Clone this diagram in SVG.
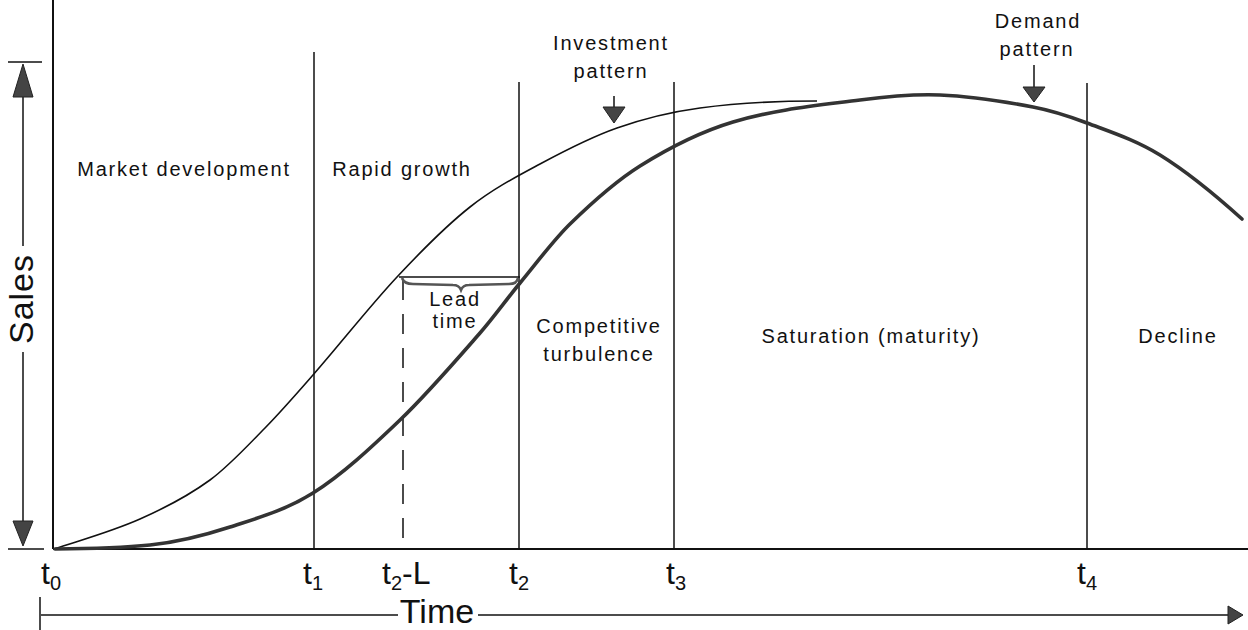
<svg xmlns="http://www.w3.org/2000/svg" width="1248" height="630" viewBox="0 0 1248 630">
<style>
.ln{stroke:#111;stroke-width:1.5;fill:none}
.ax{stroke:#111;stroke-width:2;fill:none}
.thin{stroke:#111;stroke-width:1.6;fill:none}
.thick{stroke:#333;stroke-width:3.6;fill:none;stroke-linecap:round}
.hd{fill:#444;stroke:#222;stroke-width:1}
.lbl{font-family:"Liberation Sans",Arial,sans-serif;font-size:20px;letter-spacing:1.8px;fill:#111;text-anchor:middle}
.big{font-family:"Liberation Sans",Arial,sans-serif;font-size:34px;fill:#111}
.tk{font-family:"Liberation Sans",Arial,sans-serif;font-size:32px;fill:#111}
.sub{font-size:20px}
</style>
<rect width="1248" height="630" fill="#fff"/>
<g id="axes">
<line class="ax" x1="53" y1="0" x2="53" y2="549"/>
<line class="ax" x1="53" y1="549" x2="1248" y2="549"/>
</g>
<g id="sales-axis">
<line class="ln" x1="8" y1="62" x2="42" y2="62"/>
<line class="ln" x1="8" y1="549" x2="44" y2="549"/>
<line class="ln" x1="23" y1="90" x2="23" y2="246"/>
<line class="ln" x1="23" y1="352" x2="23" y2="525"/>
<polygon class="hd" points="23,64 13,97 33,97"/>
<polygon class="hd" points="23,546 13,521 33,521"/>
<text class="big" transform="translate(33,299) rotate(-90)" text-anchor="middle" font-size="36" letter-spacing="1">Sales</text>
</g>
<g id="time-axis">
<line class="ln" x1="40" y1="597" x2="40" y2="630"/>
<line class="ln" x1="41" y1="615" x2="398" y2="615"/>
<line class="ln" x1="478" y1="615" x2="1230" y2="615"/>
<polygon class="hd" points="1228,606 1243,615 1228,624"/>
<text class="big" x="437" y="623" font-size="31" text-anchor="middle">Time</text>
</g>
<g id="phase-lines">
<line class="ln" x1="314" y1="52" x2="314" y2="549"/>
<line class="ln" x1="519" y1="82" x2="519" y2="549"/>
<line class="ln" x1="674" y1="82" x2="674" y2="549"/>
<line class="ln" x1="1087" y1="83" x2="1087" y2="549"/>
<line class="ln" x1="403" y1="280" x2="403" y2="549" stroke-dasharray="20 14"/>
</g>
<g id="connectors">
<path id="investment-curve" class="thin" d="M54,549 C82.7,539.5 111.3,531.7 140,519 C163.3,508.7 186.7,497 210,480 C228.3,466.7 246.7,446.6 265,428 C281,411.7 297,393.3 313,375 C341,343 369,307 397,277 C421.3,251 445.7,226.2 470,207 C493.3,188.6 516.7,176.5 540,164 C565.7,150.2 591.3,137 617,128 C644.7,118.3 672.3,111.7 700,108 C739,102.7 778,101 817,101"/>
<path id="demand-curve" class="thick" d="M55,549 C86.7,548.7 118.3,548.2 150,545 C176.7,542.3 203.3,535.7 230,527 C257.7,518 285.3,510.4 313,493 C342,474.8 371,447.8 400,420 C426.7,394.4 453.3,363.5 480,333 C493.3,317.8 506.7,299.1 520,283 C536.7,262.8 553.3,240.3 570,224 C593.3,201.3 616.7,180.6 640,166 C671,146.6 702,131.3 733,122 C775.3,109.3 817.7,105.5 860,100 C886.7,96.5 913.3,93.9 940,95 C971,96.2 1002,101.1 1033,107 C1051,110.4 1069,116.2 1087,123 C1111.3,132.2 1135.7,140 1160,155 C1187.3,171.9 1214.7,194.4 1242,219"/>
</g>
<g id="lead-time">
<line class="ln" x1="399" y1="277" x2="520" y2="277"/>
<path d="M402,278 Q404,284 413,284 L453,285 Q459,285 461,290 Q463,285 469,285 L509,284 Q517,284 518,278" fill="none" stroke="#555" stroke-width="2.6"/>
<text class="lbl" x="455" y="306">Lead</text>
<text class="lbl" x="455" y="328">time</text>
</g>
<g id="investment-label">
<text class="lbl" x="611" y="50">Investment</text>
<text class="lbl" x="611" y="78">pattern</text>
<line class="ln" x1="614" y1="96" x2="614" y2="108"/>
<polygon class="hd" points="603,107 625,107 614,123"/>
</g>
<g id="demand-label">
<text class="lbl" x="1038" y="28">Demand</text>
<text class="lbl" x="1037" y="56">pattern</text>
<line class="ln" x1="1034" y1="65" x2="1034" y2="88"/>
<polygon class="hd" points="1023,87 1045,87 1034,102"/>
</g>
<g id="phases">
<text class="lbl" x="184" y="176">Market development</text>
<text class="lbl" x="402" y="176">Rapid growth</text>
<text class="lbl" x="599" y="333">Competitive</text>
<text class="lbl" x="599" y="361">turbulence</text>
<text class="lbl" x="871" y="343">Saturation (maturity)</text>
<text class="lbl" x="1178" y="343">Decline</text>
</g>
<g id="time-labels">
<text class="tk" x="41" y="584">t<tspan class="sub" dy="6">0</tspan></text>
<text class="tk" x="303" y="584">t<tspan class="sub" dy="6">1</tspan></text>
<text class="tk" x="382" y="584">t<tspan class="sub" dy="6">2</tspan><tspan dy="-6">-L</tspan></text>
<text class="tk" x="509" y="584">t<tspan class="sub" dy="6">2</tspan></text>
<text class="tk" x="666" y="584">t<tspan class="sub" dy="6">3</tspan></text>
<text class="tk" x="1077" y="584">t<tspan class="sub" dy="6">4</tspan></text>
</g>
</svg>
